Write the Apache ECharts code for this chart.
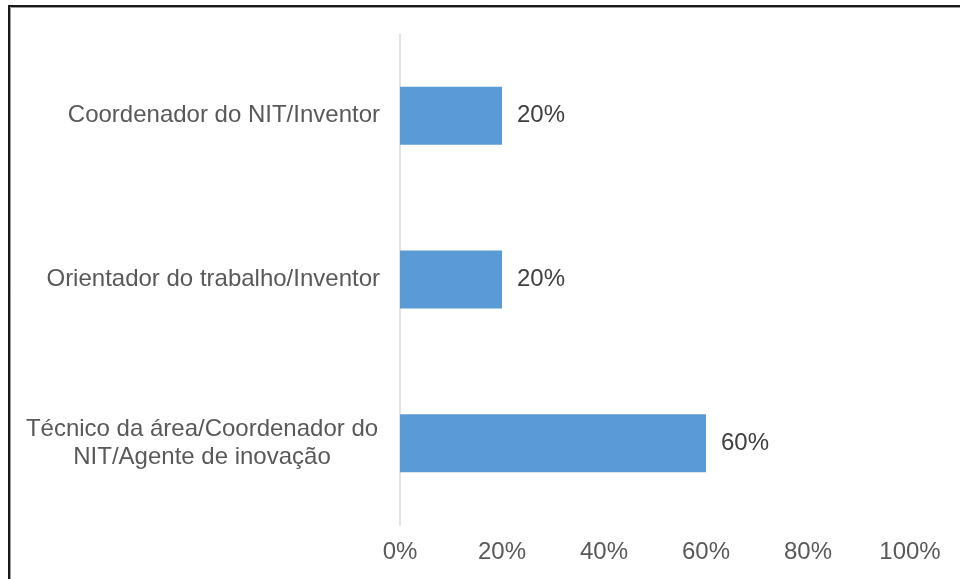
<!DOCTYPE html>
<html>
<head>
<meta charset="utf-8">
<script src="https://cdn.jsdelivr.net/npm/echarts@6/dist/echarts.min.js"></script>
<style>
  html, body { margin: 0; padding: 0; background: #fff; }
  #chart { width: 960px; height: 579px; }
</style>
</head>
<body>
<div id="chart"></div>
<script>
// categories listed top to bottom
const categories = [
  'Coordenador do NIT/Inventor',
  'Orientador do trabalho/Inventor',
  'Técnico da área/Coordenador do\nNIT/Agente de inovação'
]
const values = [20, 20, 60]
const tickLabels = ['0%', '20%', '40%', '60%', '80%', '100%']

const font = 'Liberation Sans, Arial, sans-serif'

const chart = echarts.init(document.getElementById('chart'))

const option = {
  animation: false,
  graphic: [
    {
      type: 'polyline',
      shape: { points: [[9, 579], [9, 6], [960, 6]] },
      style: { stroke: '#1a1a1a', lineWidth: 2, fill: null }
    },
    {
      type: 'polyline',
      shape: { points: [[10.5, 579], [10.5, 7.5], [960, 7.5]] },
      style: { stroke: '#9a9a9a', lineWidth: 1, fill: null }
    }
  ],
  grid: { left: 400, right: 50, top: 34, bottom: 54 },
  xAxis: {
    type: 'value',
    min: 0,
    max: 100,
    interval: 20,
    axisLine: { show: false },
    axisTick: { show: false },
    splitLine: { show: false },
    axisLabel: {
      margin: 15,
      color: '#595959',
      fontFamily: font,
      fontSize: 24,
      formatter: v => tickLabels[v / 20]
    }
  },
  yAxis: {
    type: 'category',
    inverse: true,
    data: categories,
    axisLine: { lineStyle: { color: '#d9d9d9', width: 1.5 } },
    axisTick: { show: false },
    axisLabel: {
      margin: 20,
      color: '#595959',
      fontFamily: font,
      fontSize: 24,
      lineHeight: 28,
      formatter: v => {
        if (v.indexOf('\n') < 0) return v
        return v.split('\n').map(s => '{c|' + s + '}').join('\n')
      },
      rich: {
        c: { width: 356, align: 'center', fontSize: 24, fontFamily: font, color: '#595959', lineHeight: 28 }
      }
    }
  },
  series: [
    {
      type: 'bar',
      data: values,
      barWidth: 58,
      itemStyle: { color: '#5b9bd5' },
      label: {
        show: true,
        position: 'right',
        distance: 15,
        color: '#404040',
        fontFamily: font,
        fontSize: 24,
        formatter: p => p.value + '%'
      }
    }
  ]
}

chart.setOption(option)
</script>
</body>
</html>
